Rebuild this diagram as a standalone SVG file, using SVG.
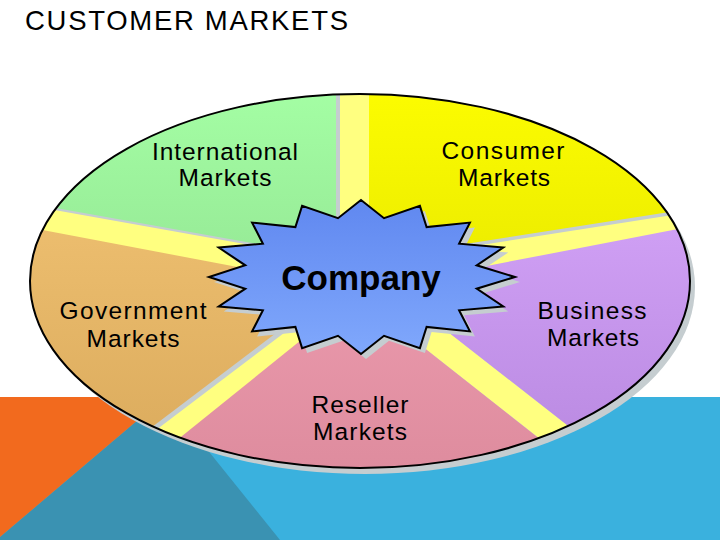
<svg xmlns="http://www.w3.org/2000/svg" width="720" height="540" viewBox="0 0 720 540">
<defs>
<style>
.lbl{font-family:"Liberation Sans",Arial,sans-serif;font-size:24.5px;fill:#000;text-anchor:middle}
.shd{fill:#c5cdd0}
</style>
<clipPath id="pie"><ellipse cx="360" cy="281" rx="330" ry="187"/></clipPath>
<linearGradient id="gIntl" gradientUnits="userSpaceOnUse" x1="0" y1="90" x2="0" y2="470"><stop offset="0" stop-color="#a4fea4"/><stop offset="1" stop-color="#86d286"/></linearGradient>
<linearGradient id="gCons" gradientUnits="userSpaceOnUse" x1="0" y1="90" x2="0" y2="470"><stop offset="0" stop-color="#fcfc00"/><stop offset="1" stop-color="#dada00"/></linearGradient>
<linearGradient id="gGov" gradientUnits="userSpaceOnUse" x1="0" y1="90" x2="0" y2="470"><stop offset="0" stop-color="#f6c878"/><stop offset="1" stop-color="#daaa5c"/></linearGradient>
<linearGradient id="gBus" gradientUnits="userSpaceOnUse" x1="0" y1="90" x2="0" y2="470"><stop offset="0" stop-color="#dcacff"/><stop offset="1" stop-color="#b888e0"/></linearGradient>
<linearGradient id="gRes" gradientUnits="userSpaceOnUse" x1="0" y1="90" x2="0" y2="470"><stop offset="0" stop-color="#f8a8bc"/><stop offset="1" stop-color="#de8c9e"/></linearGradient>
<linearGradient id="gStar" gradientUnits="userSpaceOnUse" x1="0" y1="200" x2="0" y2="355"><stop offset="0" stop-color="#6088f0"/><stop offset="1" stop-color="#80a8fc"/></linearGradient>
</defs>
<rect width="720" height="540" fill="#ffffff"/>
<g id="background">
<rect x="0" y="397" width="720" height="143" fill="#3ab1de"/>
<polygon points="165,397 0,537 0,540 280,540" fill="#3a92b2"/>
<polygon points="0,397 165,397 0,537" fill="#f26a1e"/>
</g>
<text id="title" x="25" y="30" font-family="'Liberation Sans',Arial,sans-serif" font-size="27.5" textLength="323" lengthAdjust="spacing" fill="#000">CUSTOMER MARKETS</text>
<g id="pie-base">
<ellipse cx="365" cy="287" rx="330" ry="187" class="shd"/>
<ellipse cx="360" cy="281" rx="330" ry="187" fill="#ffff80"/>
</g>
<g clip-path="url(#pie)">
<g id="international">
<polygon class="shd" transform="translate(4,3)" points="336,60 336,258 0,198 0,60"/>
<polygon fill="url(#gIntl)" points="336,60 336,258 0,198 0,60"/>
</g>
<g id="consumer">
<polygon class="shd" transform="translate(4,3)" points="369,60 720,60 720,204 369,259"/>
<polygon fill="url(#gCons)" points="369,60 720,60 720,204 369,259"/>
</g>
<g id="government">
<polygon class="shd" transform="translate(4,3)" points="338,286 0,222 0,540 3,540"/>
<polygon fill="url(#gGov)" points="338,286 0,222 0,540 3,540"/>
</g>
<g id="business">
<polygon class="shd" transform="translate(4,3)" points="388,285 720,221 720,540 714,540"/>
<polygon fill="url(#gBus)" points="388,285 720,221 720,540 714,540"/>
</g>
<g id="reseller">
<polygon class="shd" transform="translate(4,3)" points="357,295 668,540 53,540"/>
<polygon fill="url(#gRes)" points="357,295 668,540 53,540"/>
</g>
</g>
<ellipse cx="360" cy="281" rx="330" ry="187" fill="none" stroke="#000" stroke-width="2"/>
<g id="labels">
<text class="lbl" x="225" y="160" textLength="146" lengthAdjust="spacing">International</text>
<text class="lbl" x="225" y="186" textLength="93" lengthAdjust="spacing">Markets</text>
<text class="lbl" x="503" y="159" textLength="123" lengthAdjust="spacing">Consumer</text>
<text class="lbl" x="504" y="186" textLength="92" lengthAdjust="spacing">Markets</text>
<text class="lbl" x="133" y="319" textLength="147" lengthAdjust="spacing">Government</text>
<text class="lbl" x="133" y="347" textLength="93" lengthAdjust="spacing">Markets</text>
<text class="lbl" x="592" y="319" textLength="109" lengthAdjust="spacing">Business</text>
<text class="lbl" x="593" y="346" textLength="92" lengthAdjust="spacing">Markets</text>
<text class="lbl" x="360" y="413" textLength="97" lengthAdjust="spacing">Reseller</text>
<text class="lbl" x="360" y="440" textLength="94" lengthAdjust="spacing">Markets</text>
</g>
<g id="company">
<polygon class="shd" transform="translate(5,5)" points="361,200 384,218.2 419.9,205.9 426.6,227.1 469.9,222.6 459.1,243.7 503.3,247.5 476.7,265.3 515,277 476.7,288.7 503.3,306.5 459.1,310.3 469.9,331.4 426.6,326.9 419.9,348.1 384,335.8 361,354 338,335.8 302.1,348.1 295.4,326.9 252.1,331.4 262.9,310.3 218.7,306.5 245.3,288.7 209,277 245.3,265.3 218.7,247.5 262.9,243.7 252.1,222.6 295.4,227.1 302.1,205.9 338,218.2"/>
<polygon fill="url(#gStar)" stroke="#000" stroke-width="2" stroke-linejoin="miter" points="361,200 384,218.2 419.9,205.9 426.6,227.1 469.9,222.6 459.1,243.7 503.3,247.5 476.7,265.3 515,277 476.7,288.7 503.3,306.5 459.1,310.3 469.9,331.4 426.6,326.9 419.9,348.1 384,335.8 361,354 338,335.8 302.1,348.1 295.4,326.9 252.1,331.4 262.9,310.3 218.7,306.5 245.3,288.7 209,277 245.3,265.3 218.7,247.5 262.9,243.7 252.1,222.6 295.4,227.1 302.1,205.9 338,218.2"/>
<text x="361" y="290" text-anchor="middle" font-family="'Liberation Sans',Arial,sans-serif" font-size="35" font-weight="bold" fill="#000">Company</text>
</g>
</svg>
